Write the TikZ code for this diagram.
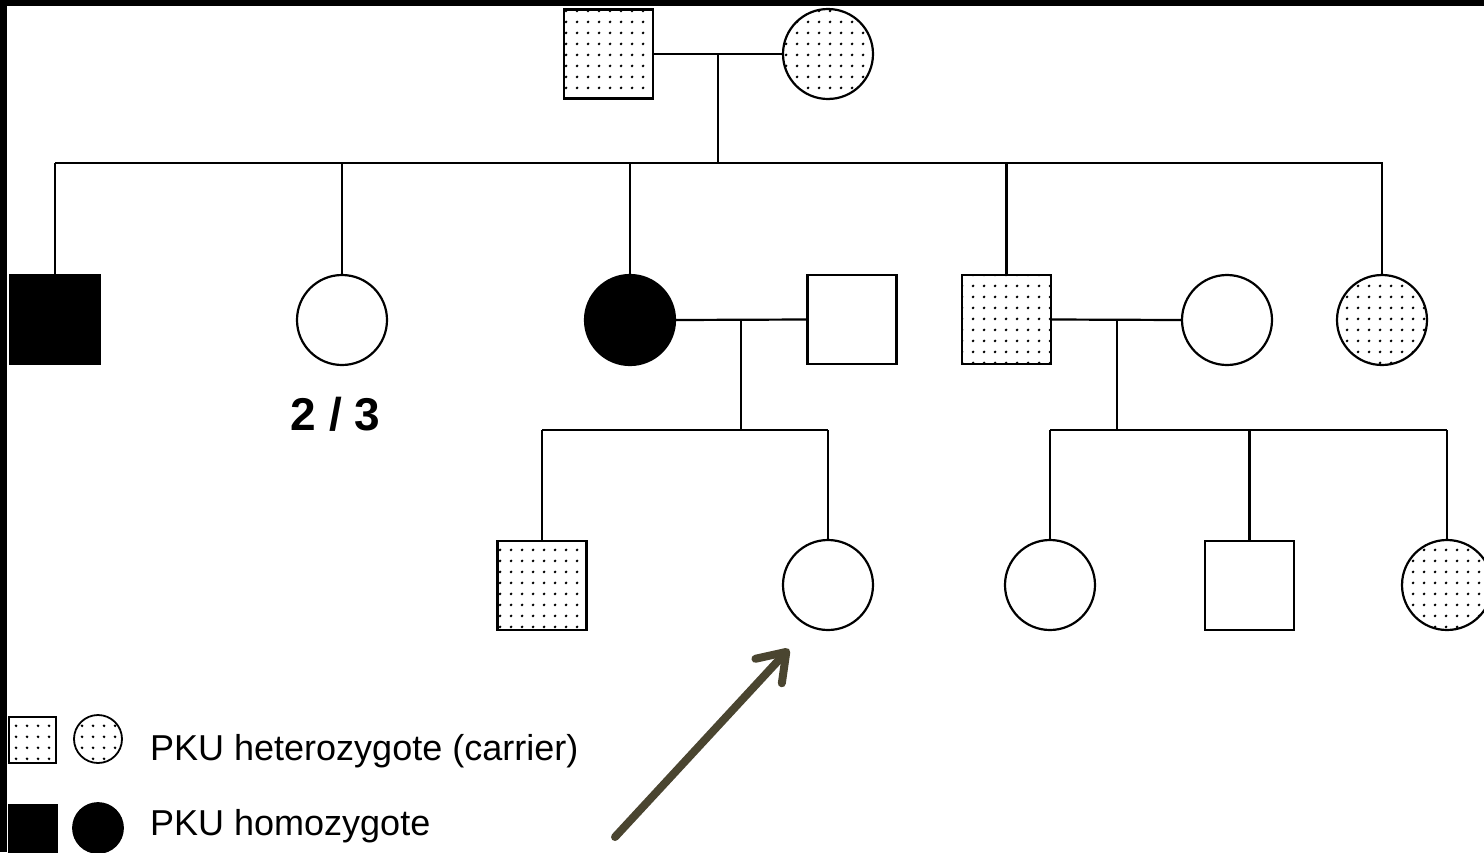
\documentclass[tikz,border=0pt]{standalone}
\usepackage{fontspec}
\setmainfont{Liberation Sans}
\usetikzlibrary{arrows.meta,patterns.meta}
\tikzdeclarepattern{
  name=pkudots,
  type=uncolored,
  bottom left={(0pt,0pt)},
  top right={(11pt,11pt)},
  tile size={(11pt,11pt)},
  code={\pgfpathcircle{\pgfpoint{5.5pt}{5.5pt}}{1.6pt}\pgfusepath{fill}}
}
\definecolor{arrowcol}{HTML}{4A4530}
\begin{document}
\begin{tikzpicture}[x=1pt,y=-1pt,
  male/.style={draw, rectangle, line width=2.2pt, minimum size=89pt, inner sep=0pt},
  female/.style={draw, circle, line width=2.2pt, minimum size=90pt, inner sep=0pt},
  carrier/.style={pattern=pkudots, pattern color=black},
  affected/.style={fill=black},
  conn/.style={line width=2.2pt},
  lgsq/.style={draw, rectangle, line width=1.8pt, inner sep=0pt},
  lgci/.style={draw, circle, line width=1.8pt, inner sep=0pt},
  lgtext/.style={anchor=base west, inner sep=0pt, font=\fontsize{36}{40}\selectfont},
  frac/.style={anchor=base, inner sep=0pt, font=\fontsize{46}{50}\selectfont\bfseries},
  pointer/.style={draw=arrowcol, line width=8pt, line cap=round,
    -{Straight Barb[length=26pt, width=36pt, line cap=round, line join=round]}}]
\useasboundingbox (0,0) rectangle (1484,852);
\clip (0,0) rectangle (1484,852);
\fill[white] (0,0) rectangle (1484,852);
\fill[black] (0,0) rectangle (1484,6);
\fill[black] (0,0) rectangle (7,852);

% generation I
\node[male, carrier] (F1) at (608.5,54) {};
\node[female, carrier] (M1) at (828,54) {};
\coordinate (j1) at (718,54);
\coordinate (s1) at (718,163);
\draw[conn] (F1.east) -- (M1.west);
\draw[conn] (j1) -- (s1);

% generation II
\node[male, affected] (B1) at (55,319.5) {};
\node[female] (G1) at (342,320) {};
\node[female, affected] (G2) at (630,320) {};
\node[male] (H2) at (852,319.5) {};
\node[male, carrier] (B3) at (1006.5,319.5) {};
\node[female] (W3) at (1227,320) {};
\node[female, carrier] (G4) at (1382,320) {};
\coordinate (sL) at (55,163);
\coordinate (sR) at (1383,163);
\draw[conn] (sL) -- (sR);
\foreach \n in {B1,G1,G2,B3,G4}{
  \draw[conn] (\n.north) -- (\n.north |- sL);
}
\node[frac] (ratio) at (335.5,430) {2 / 3};

\draw[conn] (G2.east) -- (H2.west);
\coordinate (j2) at (741,320);
\coordinate (s2) at (741,430);
\draw[conn] (j2) -- (s2);
\draw[conn] (B3.east) -- (W3.west);
\coordinate (j3) at (1117,320);
\coordinate (s3) at (1117,430);
\draw[conn] (j3) -- (s3);

% generation III
\node[male, carrier] (C1) at (542,585.5) {};
\node[female] (C2) at (828,585) {};
\node[female] (C3) at (1050,585) {};
\node[male] (C4) at (1249.5,585.5) {};
\node[female, carrier] (C5) at (1447,585) {};
\draw[conn] (C1.north |- s2) -- (C2.north |- s2);
\draw[conn] (C1.north) -- (C1.north |- s2);
\draw[conn] (C2.north) -- (C2.north |- s2);
\draw[conn] (C3.north |- s3) -- (C5.north |- s3);
\foreach \n in {C3,C4,C5}{
  \draw[conn] (\n.north) -- (\n.north |- s3);
}

% pointer arrow
\coordinate (arrS) at (615,837);
\coordinate (arrT) at (789,649);
\draw[pointer] (arrS) -- (arrT);

% legend
\node[lgsq, carrier, minimum width=47pt, minimum height=46pt] (L1) at (32.5,740) {};
\node[lgci, carrier, minimum size=48pt] (L2) at (98,739) {};
\node[lgtext] (T1) at (150,760) {PKU heterozygote (carrier)};
\node[lgsq, affected, minimum size=48pt] (L3) at (33,829) {};
\node[lgci, affected, minimum size=50pt] (L4) at (98,828) {};
\node[lgtext] (T2) at (150,835) {PKU homozygote};
\end{tikzpicture}
\end{document}
